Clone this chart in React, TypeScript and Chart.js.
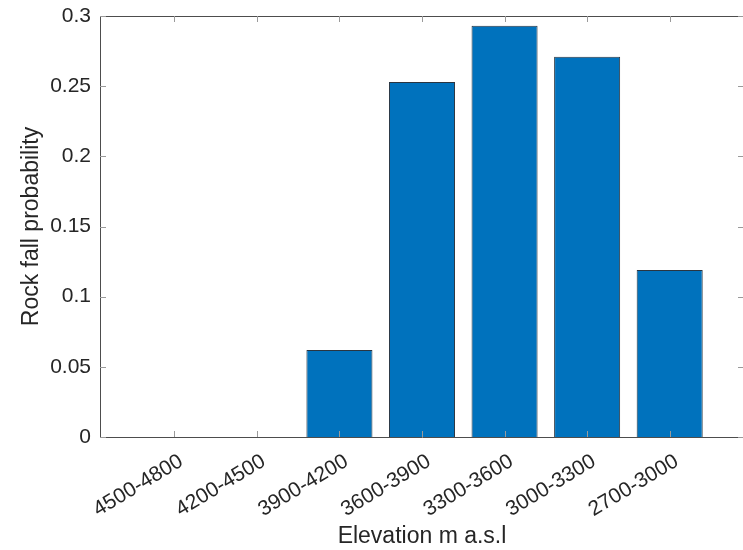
import React, { useEffect, useRef } from "react";
import { Chart, registerables } from "chart.js";

Chart.register(...registerables);

const categories = ["4500-4800", "4200-4500", "3900-4200", "3600-3900", "3300-3600", "3000-3300", "2700-3000"];
const probabilities = [0, 0, 0.062, 0.253, 0.293, 0.271, 0.119];
const yTickValues = [0, 0.05, 0.1, 0.15, 0.2, 0.25, 0.3];
const yTickLabels = ["0", "0.05", "0.1", "0.15", "0.2", "0.25", "0.3"];
const xTitle = "Elevation m a.s.l";
const yTitle = "Rock fall probability";

const AXIS_COLOR = "#4d4d4d";
const TEXT_COLOR = "#262626";
const FONT = "'Liberation Sans', Arial, Helvetica, sans-serif";

const boxPlugin = {
  id: "matlabBox",
  afterDraw(chart: any) {
    const { ctx, chartArea } = chart;
    const { left, right, top, bottom } = chartArea;
    ctx.save();
    ctx.strokeStyle = AXIS_COLOR;
    ctx.lineWidth = 1;
    ctx.beginPath();
    ctx.moveTo(left + 0.5, top + 0.5);
    ctx.lineTo(right + 0.5, top + 0.5);
    ctx.lineTo(right + 0.5, bottom + 0.5);
    ctx.lineTo(left + 0.5, bottom + 0.5);
    ctx.closePath();
    ctx.stroke();
    const tl = 6;
    const xs = chart.scales.x;
    const ys = chart.scales.y;
    ctx.strokeStyle = "#9a9a9a";
    ctx.beginPath();
    xs.ticks.forEach((t: any) => {
      const px = Math.round(xs.getPixelForValue(t.value)) + 0.5;
      ctx.moveTo(px, bottom);
      ctx.lineTo(px, bottom - tl);
      ctx.moveTo(px, top);
      ctx.lineTo(px, top + tl);
    });
    ys.ticks.forEach((t: any) => {
      const py = Math.round(ys.getPixelForValue(t.value)) + 0.5;
      ctx.moveTo(left, py);
      ctx.lineTo(left + tl, py);
      ctx.moveTo(right, py);
      ctx.lineTo(right - tl, py);
    });
    ctx.stroke();
    ctx.restore();
  },
};

export default function App() {
  const ref = useRef<HTMLCanvasElement | null>(null);
  useEffect(() => {
    document.body.style.margin = "0";
    if (!ref.current) return;
    const chart = new Chart(ref.current, {
      type: "bar",
      data: {
        datasets: [
          {
            data: categories.map((c, i) => ({ x: i + 1, y: probabilities[i] })),
            backgroundColor: "#0072BD",
            borderColor: "#2a3540",
            borderWidth: 1,
            barPercentage: 0.8,
            categoryPercentage: 1,
          },
        ],
      },
      options: {
        animation: false,
        responsive: false,
        maintainAspectRatio: false,
        layout: { padding: { top: 16, right: 12, left: 0, bottom: 0 } },
        plugins: { legend: { display: false }, tooltip: { enabled: false } },
        scales: {
          x: {
            type: "linear",
            min: 0.1,
            max: 7.9,
            offset: false,
            grid: { display: false, drawTicks: false },
            border: { display: false },
            afterBuildTicks: (scale: any) => {
              scale.ticks = categories.map((c, i) => ({ value: i + 1 }));
            },
            afterFit: (scale: any) => {
              scale.height = 113;
              scale.paddingLeft = 0;
              scale.paddingRight = 0;
            },
            ticks: {
              autoSkip: false,
              minRotation: 31,
              maxRotation: 31,
              padding: 12,
              labelOffset: 7,
              color: TEXT_COLOR,
              font: { family: FONT, size: 21 },
              callback: (v: any) => {
                const idx = Math.round(Number(v)) - 1;
                return categories[idx] ?? "";
              },
            },
            title: {
              display: true,
              text: xTitle,
              color: TEXT_COLOR,
              font: { family: FONT, size: 23 },
              padding: { top: 0, bottom: 0 },
            },
          },
          y: {
            min: 0,
            max: 0.3,
            grid: { display: false, drawTicks: false },
            border: { display: false },
            afterBuildTicks: (scale: any) => {
              scale.ticks = yTickValues.map((v) => ({ value: v }));
            },
            afterFit: (scale: any) => {
              scale.width = 100;
              scale.paddingTop = 0;
              scale.paddingBottom = 0;
            },
            ticks: {
              padding: 9,
              color: TEXT_COLOR,
              font: { family: FONT, size: 21 },
              callback: (v: any) => {
                const idx = yTickValues.findIndex((t) => Math.abs(t - Number(v)) < 1e-9);
                return idx >= 0 ? yTickLabels[idx] : "";
              },
            },
            title: {
              display: true,
              text: yTitle,
              color: TEXT_COLOR,
              font: { family: FONT, size: 23 },
              padding: { top: 18, bottom: 0 },
            },
          },
        },
      },
      plugins: [boxPlugin],
    });
    return () => chart.destroy();
  }, []);
  return (
    <div style={{ position: "fixed", left: 0, top: 0, width: 743, height: 550, overflow: "hidden", background: "#fff" }}>
      <canvas ref={ref} width={756} height={550} style={{ width: 756, height: 550, display: "block" }} />
    </div>
  );
}
